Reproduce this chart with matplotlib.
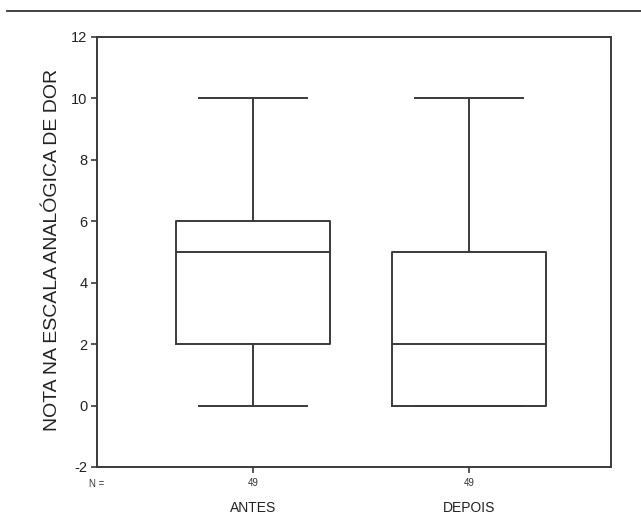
import matplotlib
matplotlib.use("Agg")
import matplotlib.pyplot as plt
from matplotlib.lines import Line2D

plt.rcParams['font.family'] = ['Liberation Sans', 'DejaVu Sans']

categories = ["ANTES", "DEPOIS"]
n_values = [49, 49]
whis_low = [0, 0]
q1 = [2, 0]
median = [5, 2]
q3 = [6, 5]
whis_high = [10, 10]
yticks = [-2, 0, 2, 4, 6, 8, 10, 12]
ylabel = "NOTA NA ESCALA ANALÓGICA DE DOR"

col = "#3a3a3a"
fig = plt.figure(figsize=(6.41, 5.23), dpi=100)
ax = fig.add_axes([97/641, 1-467/523, 514/641, 430/523])

stats = []
for i, c in enumerate(categories):
    stats.append(dict(label=c, whislo=whis_low[i], q1=q1[i], med=median[i],
                      q3=q3[i], whishi=whis_high[i], fliers=[]))
positions = list(range(1, len(categories)+1))
ax.bxp(stats, positions=positions, widths=0.713, showfliers=False,
       boxprops=dict(color=col, linewidth=1.4),
       medianprops=dict(color=col, linewidth=1.4),
       whiskerprops=dict(color=col, linewidth=1.4),
       capprops=dict(color=col, linewidth=1.4), capwidths=0.5)

ax.set_xlim(0.278, 2.657)
ax.set_ylim(-2, 12)
ax.set_yticks(yticks)
ax.set_yticklabels([str(t) for t in yticks], fontsize=10.5, color="#222222")
ax.set_xticks(positions)
ax.set_xticklabels([str(n) for n in n_values], fontsize=7, color="#333333")
ax.tick_params(axis='both', direction='out', length=4, width=1.2, color=col, pad=3)
ax.tick_params(axis='x', pad=4)
for s in ax.spines.values():
    s.set_color(col)
    s.set_linewidth(1.4)

ax.set_ylabel(ylabel, fontsize=14, color="#222222")
ax.yaxis.set_label_coords(-0.07, 0.505)

# N = label
ax.text(0.278, -0.027, "N =", transform=ax.get_xaxis_transform(), fontsize=7,
        color="#333333", ha='center', va='top')
for p, c in zip(positions, categories):
    ax.text(p, -0.078, c, transform=ax.get_xaxis_transform(), fontsize=10,
            color="#222222", ha='center', va='top')

fig.add_artist(Line2D([7/641, 1.0], [1-11/523, 1-11/523], color="#333333", linewidth=1.3))

fig.savefig("out.png", dpi=100, facecolor="white")
